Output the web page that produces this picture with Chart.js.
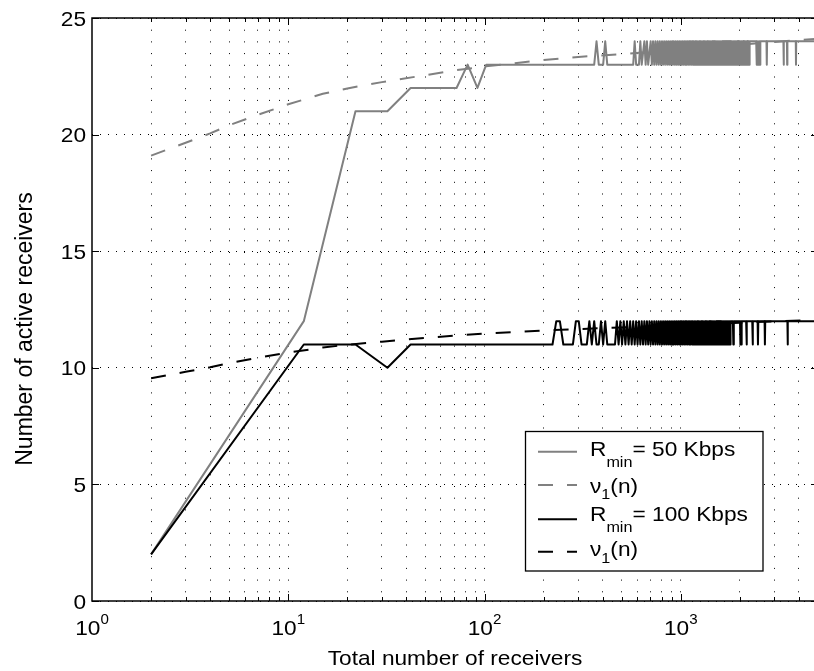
<!DOCTYPE html>
<html>
<head>
<meta charset="utf-8">
<script src="https://cdn.jsdelivr.net/npm/chart.js@4/dist/chart.umd.min.js"></script>
<style>
  html, body { margin: 0; padding: 0; background: #fff; overflow: hidden; }
  #wrap { width: 818px; height: 671px; }
</style>
</head>
<body>
<div id="wrap"><canvas id="c" width="818" height="671"></canvas></div>
<script>
// ---------------- data ----------------
const X_DECADES = [1, 10, 100, 1000];
const X_EXPONENTS = ['0', '1', '2', '3'];
const X_MULTS = [1, 2, 3, 4, 5, 6, 7, 8, 9];
const Y_TICKS = [0, 5, 10, 15, 20, 25];

const X_TITLE = 'Total number of receivers';
const Y_TITLE = 'Number of active receivers';

// R_min = 50 Kbps  [n, active receivers]
const rmin50 = [
  [2,2],[12,12],[22,21],[32,21],[42,22],[72,22],[82,23],[92,22],[102,23],
  [362,23],[372,24],[382,23],[402,23],[412,24],[422,23],
  [572,23],[582,24],[592,23],[612,23],[622,24],[632,23],[652,24],[662,23],[672,24],[682,23],
  [702,24],[712,23],[722,24],[732,23],
  [742,24],[752,23],[762,24],[772,23],[782,24],[792,23],
  [802,24],[812,23],[822,24],[832,23],[842,24],[852,23],[862,24],[872,23],[882,24],[892,23],
  [902,24],[912,23],[922,24],[932,23],[942,24],[952,23],[962,24],[972,23],[982,24],[992,23],
  [1002,24],[1012,23],[1022,24],[1032,23],[1042,24],[1052,23],[1062,24],[1072,23],[1082,24],[1092,23],
  [1102,24],[1112,23],[1122,24],[1132,23],[1142,24],[1152,23],[1162,24],[1172,23],[1182,24],[1192,23],
  [1202,24],[1212,23],[1222,24],[1232,23],[1242,24],[1252,23],[1262,24],[1272,23],[1282,24],[1292,23],
  [1302,24],[1312,23],[1322,24],[1332,23],[1342,24],[1352,23],[1362,24],[1372,23],[1382,24],[1392,23],
  [1402,24],[1412,23],[1422,24],[1432,23],[1442,24],[1452,23],[1462,24],[1472,23],[1482,24],[1492,23],
  [1502,24],[1512,23],[1522,24],[1532,23],[1542,24],[1552,23],[1562,24],[1572,23],[1582,24],[1592,23],
  [1602,24],[1612,23],[1622,24],[1632,23],[1642,24],[1652,23],[1662,24],[1672,23],[1682,24],[1692,23],
  [1702,24],[1712,23],[1722,24],[1732,23],[1742,24],[1752,23],[1762,24],[1772,23],[1782,24],[1792,23],
  [1802,24],[1812,23],[1822,24],[1832,23],[1842,24],[1852,23],[1862,24],[1872,23],[1882,24],[1892,23],
  [1902,24],[1912,23],[1922,24],[1932,23],[1942,24],[1952,23],[1962,24],[1972,23],[1982,24],[1992,23],
  [2002,24],[2012,23],[2022,24],[2032,23],[2042,24],[2052,23],[2062,24],[2072,23],[2082,24],[2092,23],
  [2102,24],[2112,23],[2122,24],[2132,23],[2142,24],[2152,23],[2162,24],[2172,23],[2182,24],[2192,23],
  [2202,24],[2212,23],[2222,24],[2232,23],[2242,24],
  [2422,24],[2432,23],[2442,24],[2462,23],[2472,24],[2502,23],[2512,24],[2532,23],[2542,24],
  [2732,24],[2742,23],[2752,24],[3332,24],[3342,23],[3352,24],[3472,24],[3482,23],[3492,24],
  [3852,24],[3862,23],[3872,24],[4802,24]
];

// nu_1(n) for R_min = 50 Kbps
const nu50 = [
  [2,19.1],[3,19.65],[4,20.05],[5,20.4],[7,20.85],[10,21.3],[15,21.75],[20,21.98],
  [30,22.25],[50,22.55],[70,22.75],[100,22.92],[150,23.08],[200,23.2],[300,23.33],
  [500,23.45],[700,23.55],[1000,23.65],[2000,23.85],[3000,23.97],[4802,24.1]
];

// R_min = 100 Kbps
const rmin100 = [
  [2,2],[12,11],[22,11],[32,10],[42,11],
  [222,11],[232,12],[242,12],[252,11],[282,11],[292,12],[302,12],[312,11],
  [332,11],[342,12],[352,11],[362,12],[372,11],[382,11],[392,12],[402,11],[412,12],[422,11],
  [462,11],[472,12],[482,11],[492,12],
  [502,11],[512,12],[522,11],[532,12],[542,11],[552,12],[562,11],[572,12],[582,11],[592,12],
  [602,11],[612,12],[622,11],[632,12],[642,11],[652,12],[662,11],[672,12],[682,11],[692,12],
  [702,11],[712,12],[722,11],[732,12],[742,11],[752,12],[762,11],[772,12],[782,11],[792,12],
  [802,11],[812,12],[822,11],[832,12],[842,11],[852,12],[862,11],[872,12],[882,11],[892,12],
  [902,11],[912,12],[922,11],[932,12],[942,11],[952,12],[962,11],[972,12],[982,11],[992,12],
  [1002,11],[1012,12],[1022,11],[1032,12],[1042,11],[1052,12],[1062,11],[1072,12],[1082,11],[1092,12],
  [1102,11],[1112,12],[1122,11],[1132,12],[1142,11],[1152,12],[1162,11],[1172,12],[1182,11],[1192,12],
  [1202,11],[1212,12],[1222,11],[1232,12],[1242,11],[1252,12],[1262,11],[1272,12],[1282,11],[1292,12],
  [1302,11],[1312,12],[1322,11],[1332,12],[1342,11],[1352,12],[1362,11],[1372,12],[1382,11],[1392,12],
  [1402,11],[1412,12],[1422,11],[1432,12],[1442,11],[1452,12],[1462,11],[1472,12],[1482,11],[1492,12],
  [1502,11],[1512,12],[1522,11],[1532,12],[1542,11],[1552,12],[1562,11],[1572,12],[1582,11],[1592,12],
  [1602,11],[1612,12],[1622,11],[1632,12],[1642,11],[1652,12],[1662,11],[1672,12],[1682,11],[1692,12],
  [1702,11],[1712,12],[1722,11],[1732,12],[1742,11],[1752,12],[1762,11],[1772,12],[1782,11],[1792,12],
  [1842,12],[1852,11],[1862,12],[2002,12],[2012,11],[2022,12],[2032,11],[2042,12],
  [2152,12],[2162,11],[2172,12],[2312,12],[2322,11],[2332,12],[2462,12],[2472,11],[2482,12],
  [2672,12],[2682,11],[2692,12],[3492,12],[3502,11],[3512,12],[4802,12]
];

// nu_1(n) for R_min = 100 Kbps
const nu100 = [
  [2,9.55],[3,9.83],[4,10.02],[5,10.2],[7,10.43],[10,10.65],[15,10.87],[20,10.99],
  [30,11.12],[50,11.28],[70,11.38],[100,11.47],[150,11.54],[200,11.6],[300,11.66],
  [500,11.73],[700,11.78],[1000,11.83],[2000,11.93],[3000,11.99],[4802,12.05]
];

const LEGEND_ITEMS = [
  { main: 'R', sub: 'min', rest: '= 50 Kbps' },
  { main: 'ν', sub: '1', rest: '(n)' },
  { main: 'R', sub: 'min', rest: '= 100 Kbps' },
  { main: 'ν', sub: '1', rest: '(n)' }
];

// ---------------- styling / drawing ----------------
const FONT = '"Liberation Sans", Arial, Helvetica, sans-serif';
const SX = 1.08;
const GRAY = '#808080';
const DASH = [15, 14];

const toPts = arr => arr.map(p => ({ x: p[0], y: p[1] }));

const xGrid = [];
X_DECADES.forEach(d => X_MULTS.forEach(m => { const v = d * m; if (v > 1 && v < 5000) xGrid.push(v); }));

function text(ctx, s, x, y, size, align) {
  ctx.save();
  ctx.font = size + 'px ' + FONT;
  ctx.translate(x, y);
  ctx.scale(SX, 1);
  ctx.textAlign = align || 'left';
  ctx.textBaseline = 'alphabetic';
  ctx.fillStyle = '#000';
  ctx.fillText(s, 0, 0);
  ctx.restore();
}
function width(ctx, s, size) {
  ctx.save();
  ctx.font = size + 'px ' + FONT;
  const w = ctx.measureText(s).width * SX;
  ctx.restore();
  return w;
}

const decor = {
  id: 'decor',
  afterDatasetsDraw(chart) {
    const ctx = chart.ctx, a = chart.chartArea;
    const xs = chart.scales.x, ys = chart.scales.y;
    ctx.save();
    ctx.strokeStyle = '#000';
    ctx.lineWidth = 1.5;
    ctx.setLineDash([]);
    ctx.strokeRect(a.left, a.top, a.right - a.left, a.bottom - a.top);
    ctx.lineWidth = 1;
    ctx.beginPath();
    xGrid.forEach(v => {
      const px = Math.round(xs.getPixelForValue(v)) + 0.5;
      const len = X_DECADES.includes(v) ? 7 : 4;
      ctx.moveTo(px, a.bottom); ctx.lineTo(px, a.bottom - len);
      ctx.moveTo(px, a.top); ctx.lineTo(px, a.top + len);
    });
    Y_TICKS.forEach(v => {
      const py = Math.round(ys.getPixelForValue(v)) + 0.5;
      ctx.moveTo(a.left, py); ctx.lineTo(a.left + 7, py);
      ctx.moveTo(a.right, py); ctx.lineTo(a.right - 7, py);
    });
    ctx.stroke();
    ctx.restore();
  },
  afterDraw(chart) {
    const ctx = chart.ctx, a = chart.chartArea;
    const xs = chart.scales.x, ys = chart.scales.y;
    // y tick labels
    Y_TICKS.forEach(v => text(ctx, String(v), 86, ys.getPixelForValue(v) + 7.5, 21, 'right'));
    // x tick labels 10^k
    X_DECADES.forEach((v, i) => {
      const px = xs.getPixelForValue(v);
      const w1 = width(ctx, '10', 21), w2 = width(ctx, X_EXPONENTS[i], 14);
      const x0 = px - (w1 + w2) / 2;
      text(ctx, '10', x0, 635, 21, 'left');
      text(ctx, X_EXPONENTS[i], x0 + w1, 624, 14, 'left');
    });
    // axis titles
    text(ctx, X_TITLE, (a.left + a.right) / 2, 665, 21, 'center');
    ctx.save();
    ctx.font = '23px ' + FONT;
    ctx.translate(31.5, 329);
    ctx.scale(SX, 1);
    ctx.rotate(-Math.PI / 2);
    ctx.textAlign = 'center';
    ctx.fillStyle = '#000';
    ctx.fillText(Y_TITLE, 0, 0);
    ctx.restore();
    // legend
    const box = { x: 525.5, y: 431.5, w: 237.5, h: 139.5 };
    ctx.save();
    ctx.fillStyle = '#fff';
    ctx.fillRect(box.x, box.y, box.w, box.h);
    ctx.strokeStyle = '#000';
    ctx.lineWidth = 1.3;
    ctx.strokeRect(box.x, box.y, box.w, box.h);
    ctx.restore();
    const rowsLine = [451.7, 485, 519.3, 551.7];
    const rowsBase = [456, 492.5, 521, 556];
    chart.data.datasets.forEach((ds, i) => {
      ctx.save();
      ctx.strokeStyle = ds.borderColor;
      ctx.lineWidth = ds.borderWidth;
      ctx.setLineDash(ds.borderDash || []);
      ctx.beginPath();
      ctx.moveTo(538, rowsLine[i]);
      ctx.lineTo(577, rowsLine[i]);
      ctx.stroke();
      ctx.restore();
      const it = LEGEND_ITEMS[i];
      const b = rowsBase[i];
      let x = 590;
      text(ctx, it.main, x, b, 21, 'left');
      x += width(ctx, it.main, 21);
      const subOff = it.sub === 'min' ? 11 : 6.5;
      text(ctx, it.sub, x, b + subOff, 15, 'left');
      x += width(ctx, it.sub, 15);
      text(ctx, it.rest, x, b, 21, 'left');
    });
  }
};

new Chart(document.getElementById('c'), {
  type: 'line',
  data: {
    datasets: [
      { label: 'Rmin = 50 Kbps', data: toPts(rmin50), borderColor: GRAY, borderWidth: 2, order: 4 },
      { label: 'nu1(n) 50', data: toPts(nu50), borderColor: GRAY, borderWidth: 2, borderDash: DASH, order: 3 },
      { label: 'Rmin = 100 Kbps', data: toPts(rmin100), borderColor: '#000', borderWidth: 2, order: 2 },
      { label: 'nu1(n) 100', data: toPts(nu100), borderColor: '#000', borderWidth: 2, borderDash: DASH, order: 1 }
    ]
  },
  options: {
    responsive: false,
    devicePixelRatio: 1,
    animation: false,
    events: [],
    layout: { padding: { top: 18, left: 0, right: 0, bottom: 0 } },
    elements: {
      point: { radius: 0 },
      line: { tension: 0, fill: false, borderJoinStyle: 'round', borderCapStyle: 'butt' }
    },
    plugins: { legend: { display: false }, tooltip: { enabled: false }, title: { display: false } },
    scales: {
      x: {
        type: 'logarithmic',
        min: 1, max: 5000,
        afterBuildTicks: s => { s.ticks = xGrid.map(v => ({ value: v })); },
        afterFit: s => { s.height = 70; },
        ticks: { display: false },
        grid: { color: '#000', lineWidth: 1, drawTicks: false },
        border: { display: false, dash: [1, 10.7] }
      },
      y: {
        type: 'linear',
        min: 0, max: 25,
        ticks: { display: false, stepSize: 5 },
        afterFit: s => { s.width = 92; },
        grid: { color: '#000', lineWidth: 1, drawTicks: false },
        border: { display: false, dash: [1, 7] }
      }
    }
  },
  plugins: [decor]
});
</script>
</body>
</html>
